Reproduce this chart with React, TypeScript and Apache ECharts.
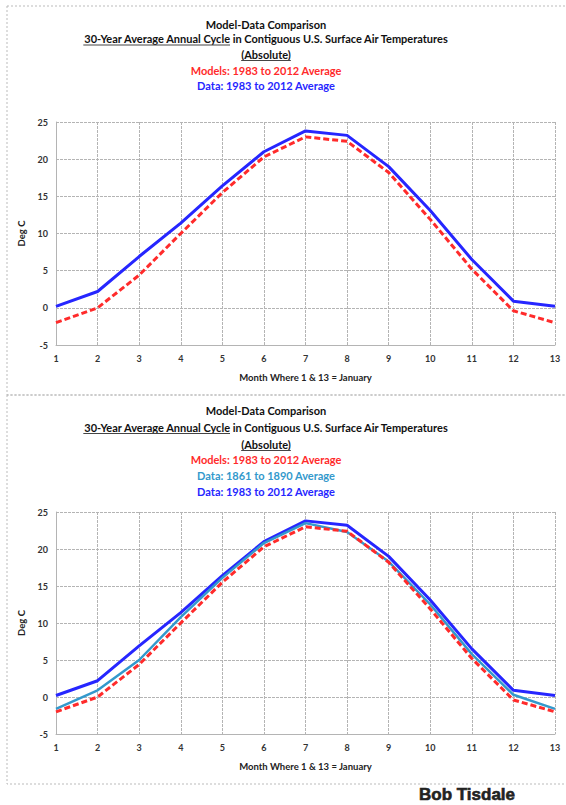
import React, { useEffect, useRef } from "react";
import * as echarts from "echarts";

const months = [1, 2, 3, 4, 5, 6, 7, 8, 9, 10, 11, 12, 13];
const models1983_2012 = [-2.0, 0.0, 4.4, 10.0, 15.5, 20.3, 23.0, 22.4, 18.2, 11.9, 5.2, -0.4, -2.0];
const data1983_2012 = [0.2, 2.2, 6.9, 11.4, 16.4, 21.0, 23.8, 23.2, 19.0, 13.1, 6.5, 0.9, 0.2];
const data1861_1890 = [-1.6, 0.9, 5.0, 10.8, 16.1, 20.8, 23.5, 22.3, 18.3, 12.5, 5.8, 0.3, -1.6];

const titleLine1 = "Model-Data Comparison";
const titleLine2a = "30-Year Average Annual Cycle";
const titleLine2b = " in Contiguous U.S. Surface Air Temperatures";
const titleLine3 = "(Absolute)";
const legendModels = "Models: 1983 to 2012 Average";
const legendData1861 = "Data: 1861 to 1890 Average";
const legendData1983 = "Data: 1983 to 2012 Average";
const xName = "Month Where 1 & 13 = January";
const yName = "Deg C";
const author = "Bob Tisdale";

const RED = "#ff2b2b";
const BLUE = "#2626ff";
const CYAN = "#3399cc";
const FONT = "Lato";

function measure(text: string, font: string): number {
  const c = document.createElement("canvas");
  const ctx = c.getContext("2d");
  if (!ctx) return text.length * 5;
  ctx.font = font;
  return ctx.measureText(text).width;
}

export default function App() {
  const ref = useRef<HTMLDivElement>(null);
  useEffect(() => {
    if (!ref.current) return;
    const chart = echarts.init(ref.current, null, { renderer: "svg" });
    const cx = 266;
    const tFont = `bold 11px ${FONT}`;
    const wFull = measure(titleLine2a + titleLine2b, tFont);
    const wA = measure(titleLine2a, tFont);
    const w3 = measure(titleLine3, tFont);

    const titleBlock = (ys: number[], legends: { t: string; c: string }[]) => {
      const els: any[] = [];
      const txt = (t: string, y: number, c: string, x = cx, align = "center") => ({
        type: "text",
        style: { text: t, x, y, fill: c, font: tFont, textAlign: align, textVerticalAlign: "middle" },
      });
      els.push(txt(titleLine1, ys[0], "#111"));
      const left = cx - wFull / 2;
      els.push(txt(titleLine2a + titleLine2b, ys[1], "#111"));
      els.push({ type: "line", shape: { x1: left, y1: ys[1] + 6.5, x2: left + wA, y2: ys[1] + 6.5 }, style: { stroke: "#444", lineWidth: 1 } });
      els.push(txt(titleLine3, ys[2], "#111"));
      els.push({ type: "line", shape: { x1: cx - w3 / 2, y1: ys[2] + 6.5, x2: cx + w3 / 2, y2: ys[2] + 6.5 }, style: { stroke: "#444", lineWidth: 1 } });
      legends.forEach((l, i) => els.push(txt(l.t, ys[3 + i], l.c)));
      return els;
    };

    const axisLabel = { fontSize: 9, color: "#333", fontFamily: FONT, fontWeight: "bold" };
    const gridColor = "#b4b4b4";
    const split = { show: true, lineStyle: { color: gridColor, type: [3, 1], width: 1 } };
    const nameStyle = { fontSize: 9.5, fontWeight: "bold", color: "#222", fontFamily: FONT };

    const xAxisCfg = (gi: number) => ({
      type: "value",
      gridIndex: gi,
      min: 1,
      max: 13,
      interval: 1,
      name: xName,
      nameLocation: "middle",
      nameGap: 27,
      nameTextStyle: nameStyle,
      axisLine: { show: true, onZero: false, lineStyle: { color: gridColor } },
      axisTick: { show: false },
      axisLabel: { ...axisLabel, margin: 9 },
      splitLine: split,
    });
    const yAxisCfg = (gi: number) => ({
      type: "value",
      gridIndex: gi,
      min: -5,
      max: 25,
      interval: 5,
      name: yName,
      nameLocation: "middle",
      nameGap: 28,
      nameRotate: 90,
      nameTextStyle: nameStyle,
      axisLine: { show: true, onZero: false, lineStyle: { color: gridColor } },
      axisTick: { show: false },
      axisLabel: { ...axisLabel, margin: 8 },
      splitLine: split,
    });

    const pts = (arr: number[]) => months.map((m, i) => [m, arr[i]]);
    const lineS = (name: string, arr: number[], color: string, gi: number, dashed: boolean, width: number) => ({
      type: "line",
      name,
      xAxisIndex: gi,
      yAxisIndex: gi,
      data: pts(arr),
      showSymbol: false,
      symbol: "none",
      lineStyle: { color, width, type: dashed ? [6, 3] : "solid" },
      z: 3,
    });

    chart.setOption({
      animation: false,
      backgroundColor: "#fff",
      grid: [
        { left: 56, right: 11, top: 122, height: 223 },
        { left: 56, right: 11, top: 512, height: 222 },
      ],
      xAxis: [xAxisCfg(0), xAxisCfg(1)],
      yAxis: [yAxisCfg(0), yAxisCfg(1)],
      series: [
        lineS("Data: 1983 to 2012 Average", data1983_2012, BLUE, 0, false, 3),
        lineS("Models: 1983 to 2012 Average", models1983_2012, RED, 0, true, 3),
        lineS("Data: 1983 to 2012 Average ", data1983_2012, BLUE, 1, false, 3),
        lineS("Data: 1861 to 1890 Average", data1861_1890, CYAN, 1, false, 2.5),
        lineS("Models: 1983 to 2012 Average ", models1983_2012, RED, 1, true, 3),
      ],
      graphic: [
        { type: "rect", shape: { x: 7, y: 6, width: 570, height: 389 }, style: { fill: "none", stroke: "#bbb", lineDash: [2, 2], lineWidth: 1 } },
        { type: "rect", shape: { x: 7, y: 395, width: 570, height: 389 }, style: { fill: "none", stroke: "#bbb", lineDash: [2, 2], lineWidth: 1 } },
        ...titleBlock([24, 38.5, 54, 70, 85], [
          { t: legendModels, c: RED },
          { t: legendData1983, c: BLUE },
        ]),
        ...titleBlock([410, 427, 444, 459, 475, 491], [
          { t: legendModels, c: RED },
          { t: legendData1861, c: CYAN },
          { t: legendData1983, c: BLUE },
        ]),
        {
          type: "text",
          style: { text: author, x: 467, y: 794, fill: "#222", font: "bold 17px 'Liberation Sans'", textAlign: "center", textVerticalAlign: "middle", stroke: "#222", lineWidth: 0.6 },
        },
      ],
    });
    return () => chart.dispose();
  }, []);
  return <div ref={ref} style={{ position: "fixed", left: 0, top: 0, width: 566, height: 805 }} />;
}
